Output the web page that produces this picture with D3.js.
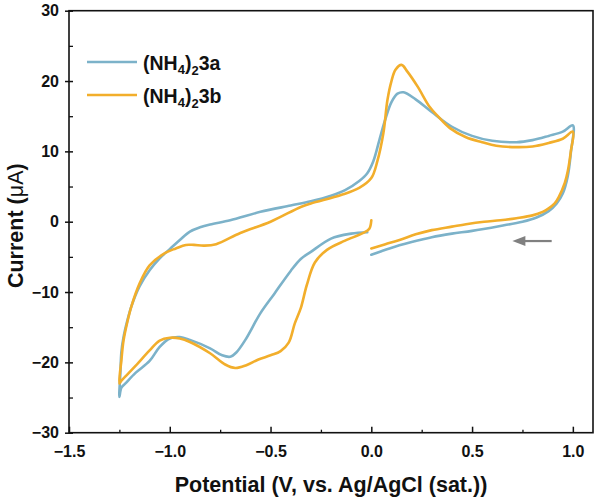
<!DOCTYPE html>
<html>
<head>
<meta charset="utf-8">
<script src="https://cdn.jsdelivr.net/npm/d3@7"></script>
<style>
  html, body { margin: 0; padding: 0; background: #fff; }
  svg { display: block; }
  text { font-family: "Liberation Sans", Arial, sans-serif; }
</style>
</head>
<body>
<svg id="chart" width="598" height="499"></svg>
<script>
// ---------- data ----------
const seriesNames = ["(NH4)23a", "(NH4)23b"];
const seriesColors = ["#7cb2c9", "#f2ae2b"];

// (NH4)2 3a : potential (V) and current (µA), one continuous CV trace
const potentialA = [
  0.00, 0.05, 0.09, 0.20, 0.30, 0.40, 0.50, 0.64, 0.75, 0.82, 0.88, 0.92, 0.95, 0.975, 0.99, 1.00,
  0.95, 0.88, 0.80, 0.72, 0.60, 0.50, 0.40, 0.30, 0.22, 0.16, 0.13, 0.10, 0.07, 0.04, 0.01, -0.02, -0.06, -0.13, -0.20, -0.30, -0.40, -0.55, -0.70, -0.80, -0.85, -0.90, -0.95, -1.00, -1.05, -1.10, -1.15, -1.19, -1.21, -1.23, -1.24, -1.245, -1.25,
  -1.24, -1.22, -1.17, -1.10, -1.05, -1.00, -0.95, -0.90, -0.80, -0.74, -0.70, -0.67, -0.625, -0.55, -0.48, -0.40, -0.35, -0.30, -0.20, -0.10, -0.02
];
const currentA = [
  -4.7, -4.2, -3.8, -2.9, -2.2, -1.7, -1.3, -0.6, 0.0, 0.6, 1.5, 2.6, 4.0, 6.5, 9.8, 13.7,
  12.8, 12.2, 11.6, 11.3, 11.5, 12.2, 13.5, 15.6, 17.4, 18.4, 18.2, 17.0, 14.6, 11.6, 8.6, 6.9, 5.8, 4.5, 3.7, 2.9, 2.3, 1.4, 0.2, -0.4, -0.8, -1.4, -2.6, -3.9, -5.2, -6.9, -9.2, -12.0, -14.0, -16.5, -18.5, -21.5, -24.9,
  -23.6, -23.0, -21.5, -19.8, -17.8, -16.6, -16.4, -16.8, -18.0, -19.0, -19.2, -18.6, -16.8, -13.0, -10.2, -7.0, -5.3, -4.3, -2.4, -1.7, -1.5
];

// (NH4)2 3b
const potentialB = [
  0.00, 0.07, 0.14, 0.22, 0.30, 0.40, 0.47, 0.56, 0.64, 0.72, 0.80, 0.85, 0.88, 0.91, 0.93, 0.96, 0.975, 0.99, 1.00,
  0.95, 0.88, 0.80, 0.72, 0.62, 0.55, 0.47, 0.39, 0.33, 0.29, 0.23, 0.18, 0.15, 0.12, 0.10, 0.08, 0.06, 0.03, 0.00, -0.06, -0.15, -0.30, -0.35, -0.50, -0.65, -0.77, -0.83, -0.88, -0.92, -0.97, -1.02, -1.10, -1.15, -1.19, -1.21, -1.23, -1.24, -1.25,
  -1.24, -1.22, -1.17, -1.10, -1.05, -1.00, -0.95, -0.90, -0.80, -0.725, -0.675, -0.62, -0.56, -0.50, -0.45, -0.41, -0.38, -0.35, -0.32, -0.28, -0.22, -0.13, -0.04, -0.01, 0.00
];
const currentB = [
  -3.8, -3.2, -2.6, -1.8, -1.2, -0.7, -0.35, 0.0, 0.2, 0.5, 0.9, 1.4, 1.9, 2.6, 3.5, 5.5, 7.2, 10.0, 12.8,
  11.8, 11.2, 10.7, 10.6, 10.8, 11.3, 12.0, 13.3, 15.0, 16.3, 19.2, 21.3, 22.3, 21.6, 20.0, 17.3, 12.6, 8.6, 6.2, 4.8, 3.8, 2.6, 2.1, 0.0, -1.6, -3.2, -3.4, -3.3, -3.3, -3.8, -4.4, -6.2, -8.8, -12.0, -14.2, -17.0, -19.7, -23.0,
  -22.6, -22.0, -20.5, -18.3, -16.9, -16.5, -16.6, -17.1, -18.7, -20.3, -20.8, -20.4, -19.6, -19.0, -18.4, -17.2, -14.5, -12.3, -9.0, -5.8, -4.0, -2.7, -1.6, -1.0, 0.2
];

const xTicks = [-1.5, -1.0, -0.5, 0.0, 0.5, 1.0];
const yTicks = [-30, -20, -10, 0, 10, 20, 30];
const xMinorTicks = [-1.25, -0.75, -0.25, 0.25, 0.75];
const yMinorTicks = [-25, -15, -5, 5, 15, 25];

// scan-direction arrow (potential from -> to, at current)
const arrowFrom = [0.895, -2.75];
const arrowTo = [0.70, -2.75];

// ---------- layout ----------
const W = 598, H = 499;
const margin = { left: 69, right: 5, top: 10.7, bottom: 66.3 };
const svg = d3.select("#chart");

const x = d3.scaleLinear().domain([-1.5, 1.1]).range([margin.left, W - margin.right]);
const y = d3.scaleLinear().domain([-30, 30]).range([H - margin.bottom, margin.top]);

// curves
const seriesData = [
  potentialA.map((v, i) => [v, currentA[i]]),
  potentialB.map((v, i) => [v, currentB[i]])
];
const line = d3.line().x(d => x(d[0])).y(d => y(d[1])).curve(d3.curveCatmullRom.alpha(0.5));

const plot = svg.append("g");
seriesData.forEach((data, i) => {
  plot.append("path")
    .datum(data)
    .attr("d", line)
    .attr("fill", "none")
    .attr("stroke", seriesColors[i])
    .attr("stroke-width", 2.6)
    .attr("stroke-linejoin", "round")
    .attr("stroke-linecap", "round");
});

// frame
svg.append("rect")
  .attr("x", x.range()[0]).attr("y", y.range()[1])
  .attr("width", x.range()[1] - x.range()[0])
  .attr("height", y.range()[0] - y.range()[1])
  .attr("fill", "none").attr("stroke", "#111").attr("stroke-width", 1.6);

// x axis
const xAxis = d3.axisBottom(x).tickValues(xTicks).tickSizeInner(-6).tickSizeOuter(0)
  .tickFormat(d => (d < 0 ? "\u2212" : "") + Math.abs(d).toFixed(1));
const gx = svg.append("g").attr("transform", `translate(0,${y.range()[0]})`).call(xAxis);
gx.select(".domain").remove();
gx.selectAll(".tick line").attr("stroke", "#111").attr("stroke-width", 1.5);
gx.selectAll(".tick text").attr("dy", 0).attr("y", 24)
  .attr("font-size", 16).attr("font-weight", "bold").attr("fill", "#111");
const xMinor = d3.axisBottom(x).tickValues(xMinorTicks).tickSizeInner(-3).tickSizeOuter(0).tickFormat("");
const gxm = svg.append("g").attr("transform", `translate(0,${y.range()[0]})`).call(xMinor);
gxm.select(".domain").remove();
gxm.selectAll(".tick line").attr("stroke", "#111").attr("stroke-width", 1.3);

// y axis
const yAxis = d3.axisLeft(y).tickValues(yTicks).tickSizeInner(4).tickSizeOuter(0)
  .tickFormat(d => (d < 0 ? "\u2212" : "") + Math.abs(d));
const gy = svg.append("g").attr("transform", `translate(${x.range()[0]},0)`).call(yAxis);
gy.select(".domain").remove();
gy.selectAll(".tick line").attr("stroke", "#111").attr("stroke-width", 1.5).attr("x2", 4).attr("x1", -4);
gy.selectAll(".tick text").attr("x", -10)
  .attr("font-size", 16).attr("font-weight", "bold").attr("fill", "#111");
const yMinor = d3.axisLeft(y).tickValues(yMinorTicks).tickSizeOuter(0).tickFormat("");
const gym = svg.append("g").attr("transform", `translate(${x.range()[0]},0)`).call(yMinor);
gym.select(".domain").remove();
gym.selectAll(".tick line").attr("stroke", "#111").attr("stroke-width", 1.3).attr("x1", 0).attr("x2", 4);

// axis titles
svg.append("text")
  .attr("x", (x.range()[0] + x.range()[1]) / 2).attr("y", 492)
  .attr("text-anchor", "middle").attr("font-size", 21.5).attr("font-weight", "bold").attr("fill", "#111")
  .text("Potential (V, vs. Ag/AgCl (sat.))");

const yt = svg.append("text")
  .attr("transform", `translate(23,${(y.range()[0] + y.range()[1]) / 2 + 4}) rotate(-90)`)
  .attr("text-anchor", "middle").attr("font-size", 21.5).attr("font-weight", "bold").attr("fill", "#111");
yt.append("tspan").text("Current (");
yt.append("tspan").attr("font-weight", "normal").text("\u03bcA");
yt.append("tspan").text(")");

// legend
const legend = svg.append("g");
[0, 1].forEach(i => {
  const ly = 62 + i * 33;
  legend.append("line").attr("x1", 87).attr("x2", 137).attr("y1", ly).attr("y2", ly)
    .attr("stroke", seriesColors[i]).attr("stroke-width", 2.6);
  const t = legend.append("text").attr("x", 143).attr("y", ly + 8)
    .attr("font-size", 19.5).attr("font-weight", "bold").attr("fill", "#111");
  t.append("tspan").text("(NH");
  t.append("tspan").attr("font-size", 13).attr("dy", 4).text("4");
  t.append("tspan").attr("dy", -4).text(")");
  t.append("tspan").attr("font-size", 13).attr("dy", 5).text("2");
  t.append("tspan").attr("dy", -5).text(seriesNames[i].slice(-2));
});

// arrow
const ax1 = x(arrowFrom[0]), ax2 = x(arrowTo[0]), ay = y(arrowFrom[1]);
svg.append("line").attr("x1", ax1).attr("x2", ax2 + 10).attr("y1", ay).attr("y2", ay)
  .attr("stroke", "#808080").attr("stroke-width", 2.2);
svg.append("path")
  .attr("d", `M${ax2},${ay} L${ax2 + 13},${ay - 5} L${ax2 + 13},${ay + 5} Z`)
  .attr("fill", "#808080");
</script>
</body>
</html>
